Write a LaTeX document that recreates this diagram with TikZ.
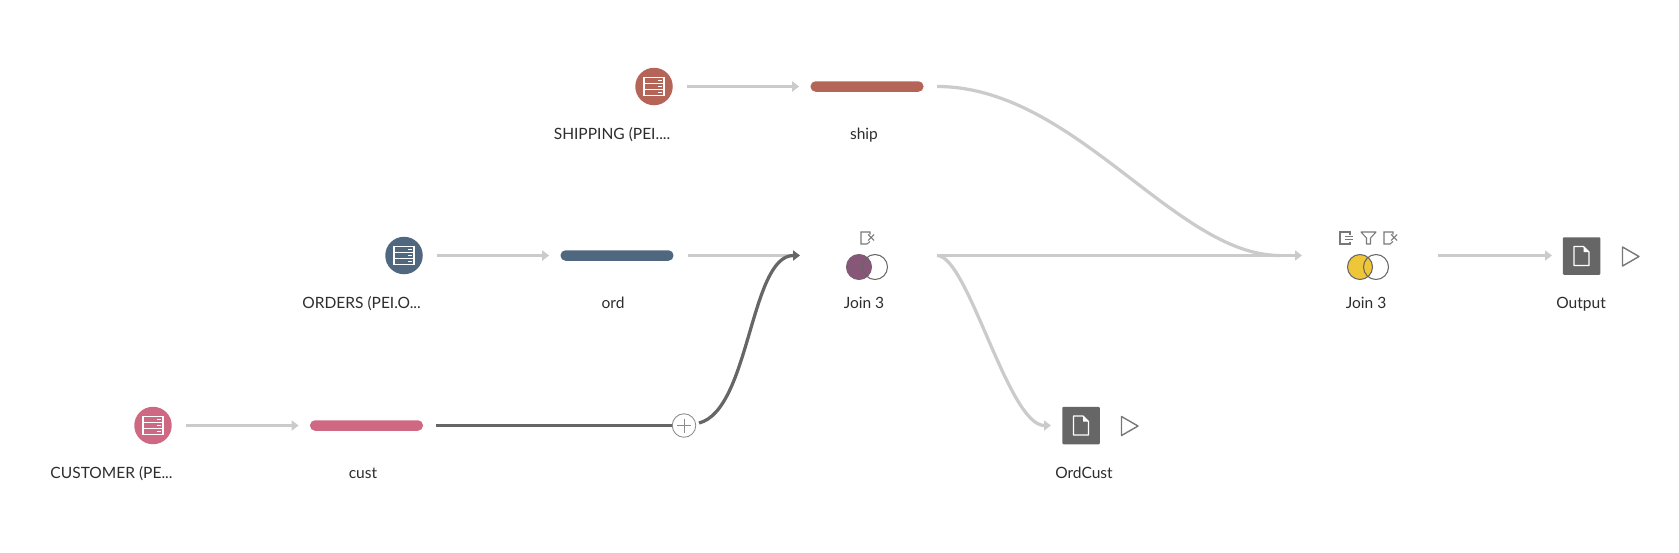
\documentclass[tikz,border=0pt]{standalone}
\usepackage{fontspec}
\setmainfont{Lato}
\usetikzlibrary{arrows.meta,positioning}
\definecolor{shipred}{RGB}{181,101,88}
\definecolor{ordblue}{RGB}{80,104,127}
\definecolor{custpink}{RGB}{207,104,130}
\definecolor{joinpurple}{RGB}{135,87,120}
\definecolor{joinyellow}{RGB}{239,198,56}
\definecolor{flowgray}{RGB}{203,203,203}
\definecolor{darkgray}{RGB}{102,102,102}
\definecolor{icongray}{RGB}{120,120,120}
\definecolor{plusgray}{RGB}{140,140,140}
\definecolor{textgray}{RGB}{45,45,45}
\tikzset{
  flow/.style={line width=0.065cm, flowgray},
  flowarrow/.style={flow, -{Triangle[length=0.14cm,width=0.2cm]}},
  dbnode/.style={circle, inner sep=0pt, minimum size=0.75cm},
  barnode/.style={rounded corners=0.1cm, inner sep=0pt, minimum width=2.26cm, minimum height=0.21cm},
  outnode/.style={fill=darkgray, rounded corners=0.02cm, inner sep=0pt, minimum size=0.75cm},
  label/.style={anchor=base, font=\fontsize{8.85}{11}\selectfont, text=textgray},
  iconline/.style={line width=0.6pt, icongray},
  venn/.style={circle, inner sep=0pt, minimum size=0.5cm, draw=darkgray, line width=0.6pt},
  dbicon/.pic={
    \foreach \r in {-6.2,0,6.2} {
      \draw[white, line width=0.6pt] (-10,\r-3.1) rectangle (10,\r+3.1);
      \draw[white, line width=0.8pt] (4,\r) -- (7.5,\r);
    }
  },
  docicon/.pic={
    \draw[white, line width=0.75pt, line join=round] (-7.5,-9.5) -- (2,-9.5) -- (7.5,-4) -- (7.5,9.5) -- (-7.5,9.5) -- cycle;
    \fill[white] (2,-9.5) -- (2,-4) -- (7.5,-4) -- cycle;
  },
  playicon/.pic={
    \draw[iconline, line width=0.8pt, line join=round] (-8,-9.5) -- (8.5,0) -- (-8,9.5) -- cycle;
  },
  exiticon/.pic={
    \draw[iconline] (3,-3.5) -- (3,-6) -- (-6,-6) -- (-6,6) -- (0,6) -- (3,3.5);
    \draw[iconline] (1,-3.5) -- (7,2.5) (1,2.5) -- (7,-3.5);
  },
  listicon/.pic={
    \draw[iconline] (4,-3.5) -- (4,-6) -- (-6,-6) -- (-6,6) -- (4,6) -- (4,3.5);
    \draw[iconline] (-1,-1.5) -- (7,-1.5) (-1,1.5) -- (7,1.5);
  },
  filtericon/.pic={
    \draw[iconline, line join=round] (-7.5,-6) -- (7.5,-6) -- (2,0) -- (2,6) -- (-2,6) -- (-2,0) -- cycle;
  }
}

\begin{document}
\begin{tikzpicture}[x=0.02cm, y=-0.02cm]
\useasboundingbox (0,0) rectangle (1679,552);

% Sources
\node[dbnode, fill=shipred] (shipdb) at (654,86.5) {};
\node[dbnode, fill=ordblue] (orddb) at (404,255.5) {};
\node[dbnode, fill=custpink] (custdb) at (153,425.5) {};
\pic at (shipdb) {dbicon};
\pic at (orddb) {dbicon};
\pic at (custdb) {dbicon};

% Clean steps
\node[barnode, fill=shipred] (shipbar) at (867,86.5) {};
\node[barnode, fill=ordblue] (ordbar) at (617,255.5) {};
\node[barnode, fill=custpink] (custbar) at (366.5,425.5) {};

% Joins
\node[venn, fill=joinpurple, draw=joinpurple!70!darkgray] (joinA) at (859,267) {};
\node[venn] (joinB) at (875,267) {};
\node[venn, fill=joinyellow] (joinC) at (1360,267) {};
\node[venn] (joinD) at (1376,267) {};
\pic at (867,238) {exiticon};
\pic at (1346,238) {listicon};
\pic at (1368.5,238) {filtericon};
\pic at (1390,238) {exiticon};

% Outputs
\node[outnode] (ordcust) at (1081,425.5) {};
\node[outnode] (output) at (1581.5,256) {};
\pic at (ordcust) {docicon};
\pic at (output) {docicon};
\pic at (1129.5,426) {playicon};
\pic at (1630.5,256.5) {playicon};

% Plus
\node[circle, draw=plusgray, fill=white, line width=0.5pt, inner sep=0pt, minimum size=0.47cm] (plus) at (684,425.5) {};
\draw[plusgray, line width=0.5pt] (677,425.5) -- (691,425.5) (684,418.5) -- (684,432.5);

% Labels
\node[label] (shipdblabel) at (612,139) {SHIPPING (PEI....};
\node[label] (shipbarlabel) at (864,139) {ship};
\node[label] (orddblabel) at (361.5,308.5) {ORDERS (PEI.O...};
\node[label] (ordbarlabel) at (613,308.5) {ord};
\node[label] (custdblabel) at (111.5,478) {CUSTOMER (PE...};
\node[label] (custbarlabel) at (363,478) {cust};
\node[label] (joinAlabel) at (864,308.5) {Join 3};
\node[label] (joinClabel) at (1366,308.5) {Join 3};
\node[label] (ordcustlabel) at (1084,478) {OrdCust};
\node[label] (outputlabel) at (1581,308.5) {Output};

% Free ends
\coordinate (joinAin) at (800,255.5);
\coordinate (joinAout) at (937,255.5);
\coordinate (shipout) at (937,86.5);
\coordinate (joinCin) at (1302,255.5);
\coordinate (joinCmerge) at (1280,255.5);
\coordinate (joinCout) at (1438,255.5);
\coordinate (outputin) at (1552,255.5);
\coordinate (ordcustin) at (1051,425.5);
\coordinate (plusout) at (699,423);

% Connectors
\draw[flowarrow, shorten <=0.27cm, shorten >=0.22cm] (shipdb) -- (shipbar);
\draw[flowarrow, shorten <=0.27cm, shorten >=0.22cm] (orddb) -- (ordbar);
\draw[flowarrow, shorten <=0.27cm, shorten >=0.22cm] (custdb) -- (custbar);
\draw[flowarrow, shorten <=0.28cm] (ordbar.east) -- (joinAin);
\draw[flow] (shipout) .. controls (1075,86.5) and (1175,255.5) .. (joinCmerge);
\draw[flowarrow] (joinAout) -- (joinCin);
\draw[flowarrow] (joinAout) .. controls (968,255.5) and (1008,425.5) .. (ordcustin);
\draw[flowarrow] (joinCout) -- (outputin);
\draw[flow, darkgray, shorten <=0.26cm] (custbar.east) -- (plus.west);
\draw[flowarrow, darkgray] (plusout) .. controls (750,410) and (750,255.5) .. (joinAin);
\end{tikzpicture}
\end{document}
